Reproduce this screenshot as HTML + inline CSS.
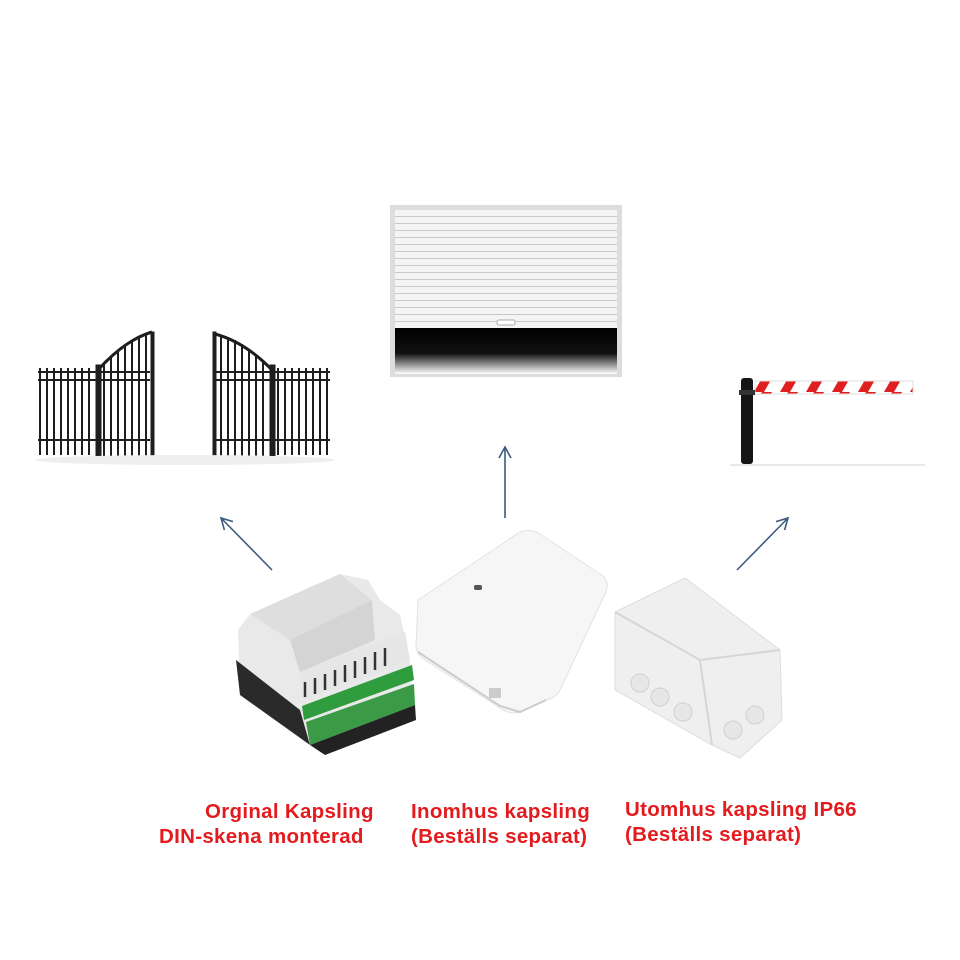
<!DOCTYPE html>
<html><head><meta charset="utf-8"><style>
body{margin:0;background:#fff;width:960px;height:960px;overflow:hidden;position:relative;font-family:"Liberation Sans",Arial,sans-serif}
.t{position:absolute;color:#e31b1e;font-weight:bold;font-size:20.5px;letter-spacing:.3px;line-height:25px;white-space:nowrap}
</style></head><body>
<svg width="960" height="960" style="position:absolute;left:0;top:0">
<defs>
<linearGradient id="dk" x1="0" y1="0" x2="0" y2="1"><stop offset="0" stop-color="#000"/><stop offset=".55" stop-color="#111"/><stop offset="1" stop-color="#fff"/></linearGradient>
<pattern id="sl" width="10" height="7" patternUnits="userSpaceOnUse"><rect width="10" height="7" fill="#f4f4f4"/><rect y="6" width="10" height="1" fill="#c8c8c8"/></pattern>
<pattern id="st" width="26" height="14" patternUnits="userSpaceOnUse"><rect width="26" height="14" fill="#fff"/><polygon points="0,14 8,0 18,0 10,14" fill="#e02020"/></pattern>
<marker id="ah" markerWidth="16" markerHeight="16" refX="12" refY="7" orient="auto" markerUnits="userSpaceOnUse"><path d="M1,1 L12,7 L1,13" fill="none" stroke="#3b5a80" stroke-width="1.6"/></marker>
</defs>
<!-- roller door -->
<rect x="390" y="205" width="232" height="172" fill="#ddd"/>
<rect x="395" y="210" width="222" height="118" fill="url(#sl)"/>
<rect x="395" y="328" width="222" height="46" fill="url(#dk)"/>
<rect x="497" y="320" width="18" height="5" rx="2" fill="#fff" stroke="#aaa"/>
<!-- gate -->
<g stroke="#1e1e1e" fill="none">
<line x1="38" y1="372" x2="150" y2="372" stroke-width="2"/>
<line x1="38" y1="380" x2="150" y2="380" stroke-width="2"/>
<line x1="38" y1="440" x2="150" y2="440" stroke-width="2"/>
<line x1="215" y1="372" x2="330" y2="372" stroke-width="2"/>
<line x1="215" y1="380" x2="330" y2="380" stroke-width="2"/>
<line x1="215" y1="440" x2="330" y2="440" stroke-width="2"/>
<path d="M98,370 Q125,340 152,332" stroke-width="3"/>
<path d="M215,334 Q245,342 272,370" stroke-width="3"/>
<path d="M40,368 V455 M47,368 V455 M54,368 V455 M61,368 V455 M68,368 V455 M75,368 V455 M82,368 V455 M89,368 V455 M104,364 V458 M111,358 V458 M118,352 V458 M125,346 V458 M132,341 V458 M139,337 V458 M146,334 V458" stroke-width="2"/>
<path d="M221,336 V458 M228,337 V458 M235,340 V458 M242,344 V458 M249,349 V458 M256,355 V458 M263,361 V458 M278,368 V455 M285,368 V455 M292,368 V455 M299,368 V455 M306,368 V455 M313,368 V455 M320,368 V455 M327,368 V455" stroke-width="2"/>
<rect x="96" y="365" width="5" height="97" fill="#1e1e1e"/><rect x="151" y="332" width="3" height="128" fill="#1e1e1e"/>
<rect x="270" y="365" width="5" height="97" fill="#1e1e1e"/><rect x="213" y="332" width="3" height="128" fill="#1e1e1e"/>
</g>
<ellipse cx="185" cy="460" rx="150" ry="5" fill="#eee"/>
<!-- barrier -->
<rect x="755" y="381" width="158" height="13" fill="url(#st)" stroke="#ddd"/>
<rect x="741" y="378" width="12" height="86" rx="3" fill="#151515"/>
<rect x="739" y="390" width="16" height="5" fill="#333"/>
<line x1="730" y1="465" x2="925" y2="465" stroke="#e8e8e8" stroke-width="2"/>
<!-- arrows -->
<g stroke="#3b5a80" stroke-width="1.6" fill="none">
<line x1="272" y1="570" x2="221" y2="518" marker-end="url(#ah)"/>
<line x1="505" y1="518" x2="505" y2="447" marker-end="url(#ah)"/>
<line x1="737" y1="570" x2="788" y2="518" marker-end="url(#ah)"/>
</g>
<!-- DIN module -->
<polygon points="238,630 250,614 340,574 368,580 380,600 400,615 410,660 415,720 330,752 305,735 240,690" fill="#e9e9e9"/>
<polygon points="250,614 340,574 372,600 290,640" fill="#dedede"/>
<polygon points="290,640 372,600 375,640 300,672" fill="#d4d4d4"/>
<polygon points="300,672 405,632 410,660 305,700" fill="#e6e6e6"/>
<g stroke="#333" stroke-width="2.5"><line x1="305" y1="682" x2="305" y2="697"/><line x1="315" y1="678" x2="315" y2="694"/><line x1="325" y1="674" x2="325" y2="690"/><line x1="335" y1="670" x2="335" y2="686"/><line x1="345" y1="665" x2="345" y2="682"/><line x1="355" y1="661" x2="355" y2="678"/><line x1="365" y1="657" x2="365" y2="674"/><line x1="375" y1="652" x2="375" y2="670"/><line x1="385" y1="648" x2="385" y2="666"/></g>
<polygon points="302,706 412,665 414,680 304,720" fill="#2f9d3e"/>
<polygon points="306,722 414,684 415,705 310,745" fill="#3a9a45"/>
<polygon points="310,745 415,705 416,720 325,755" fill="#222"/>
<polygon points="236,660 300,710 310,745 240,695" fill="#2a2a2a"/>
<!-- indoor box -->
<path d="M418,600 L520,532 Q530,528 540,534 L600,574 Q610,580 606,592 L560,690 Q556,698 546,700 L520,712 Q510,715 500,708 L425,660 Q416,654 416,646 Z" fill="#f6f6f6" stroke="#e2e2e2"/>
<path d="M418,652 L500,706 L520,712 L546,700" fill="none" stroke="#ccc" stroke-width="2"/>
<rect x="474" y="585" width="8" height="5" rx="2" fill="#555"/>
<rect x="489" y="688" width="12" height="10" fill="#ccc"/>
<!-- outdoor box -->
<path d="M615,612 L685,578 L780,650 L782,720 L740,758 L712,745 L615,690 Z" fill="#efefef" stroke="#ddd"/>
<path d="M615,612 L700,660 L780,650 M700,660 L712,745" fill="none" stroke="#d6d6d6" stroke-width="2"/>
<g fill="#e6e6e6" stroke="#d0d0d0"><circle cx="640" cy="683" r="9"/><circle cx="660" cy="697" r="9"/><circle cx="683" cy="712" r="9"/><circle cx="733" cy="730" r="9"/><circle cx="755" cy="715" r="9"/></g>
</svg>
<div class="t" style="left:205px;top:799px">Orginal Kapsling</div>
<div class="t" style="left:159px;top:824px">DIN-skena monterad</div>
<div class="t" style="left:411px;top:799px">Inomhus kapsling</div>
<div class="t" style="left:411px;top:824px">(Beställs separat)</div>
<div class="t" style="left:625px;top:797px">Utomhus kapsling IP66</div>
<div class="t" style="left:625px;top:822px">(Beställs separat)</div>
</body></html>
